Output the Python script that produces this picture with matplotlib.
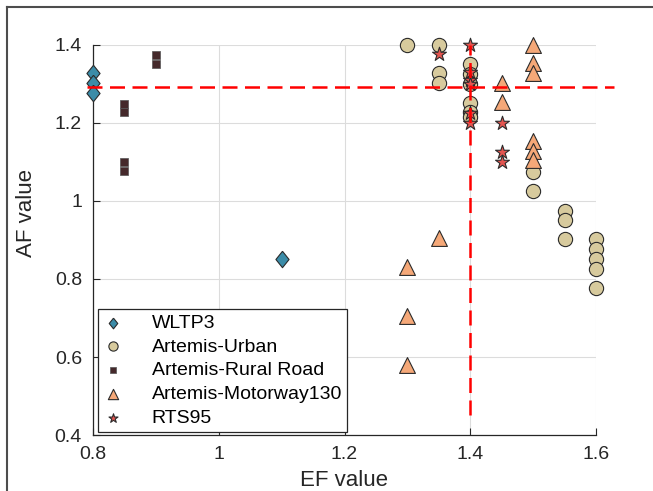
import numpy as np
import matplotlib.pyplot as plt
from matplotlib.lines import Line2D

plt.rcParams['font.family'] = ['Liberation Sans', 'DejaVu Sans']

# Daten je Fahrzyklus (EF, AF)
wltp3_ef = [0.8, 0.8, 0.8, 1.1]
wltp3_af = [1.328, 1.303, 1.277, 0.85]

urban_ef = [1.3, 1.35, 1.35, 1.35, 1.4, 1.4, 1.4, 1.4, 1.4, 1.4,
            1.5, 1.5, 1.55, 1.55, 1.55, 1.6, 1.6, 1.6, 1.6, 1.6]
urban_af = [1.4, 1.4, 1.327, 1.302, 1.35, 1.325, 1.3, 1.25, 1.228, 1.215,
            1.075, 1.026, 0.975, 0.951, 0.902, 0.902, 0.877, 0.851, 0.826, 0.776]

rural_ef = [0.85, 0.85, 0.85, 0.85, 0.9, 0.9]
rural_af = [1.249, 1.227, 1.1, 1.076, 1.375, 1.351]

motorway_ef = [1.3, 1.3, 1.3, 1.35, 1.45, 1.45, 1.5, 1.5, 1.5, 1.5, 1.5, 1.5]
motorway_af = [0.83, 0.704, 0.579, 0.904, 1.303, 1.255, 1.4, 1.355, 1.329, 1.155, 1.129, 1.105]

rts95_ef = [1.35, 1.4, 1.4, 1.4, 1.4, 1.4, 1.4, 1.45, 1.45, 1.45]
rts95_af = [1.376, 1.4, 1.33, 1.31, 1.3, 1.225, 1.2, 1.201, 1.126, 1.101]

# Grenzwerte
ef_limit = 1.4
af_limit = 1.292

fig = plt.figure(figsize=(6.53, 4.91), dpi=100)
ax = fig.add_axes([93/653, 1-435/491, 503/653, 390/491])

edge = '#2b2b2b'
ax.scatter(wltp3_ef, wltp3_af, marker=[(0, 1), (0.8, 0), (0, -1), (-0.8, 0), (0, 1)],
           s=140, c='#3b8ca8', edgecolors=edge, linewidths=0.8, clip_on=False,
           zorder=3, label='WLTP3')
ax.scatter(urban_ef, urban_af, marker='o', s=105, c='#d7ca9d', edgecolors=edge,
           linewidths=0.8, clip_on=False, zorder=3, label='Artemis-Urban')
ax.scatter(rural_ef, rural_af, marker='s', s=38, c='#45292b', edgecolors='#555555',
           linewidths=0.5, clip_on=False, zorder=3, label='Artemis-Rural Road')
ax.scatter(motorway_ef, motorway_af, marker='^', s=130, c='#f5a878', edgecolors=edge,
           linewidths=0.8, clip_on=False, zorder=3, label='Artemis-Motorway130')
ax.scatter(rts95_ef, rts95_af, marker='*', s=110, c='#e35550', edgecolors=edge,
           linewidths=0.8, clip_on=False, zorder=4, label='RTS95')

# Grenzlinien (rot gestrichelt)
ax.plot([0.79, 1.628], [af_limit, af_limit], color='red', lw=1.8,
        linestyle=(0, (6, 3)), clip_on=False, zorder=5)
ax.plot([ef_limit, ef_limit], [0.45, 1.4], color='red', lw=1.8,
        linestyle=(0, (6, 3)), clip_on=False, zorder=5)

ax.set_xlim(0.8, 1.6)
ax.set_ylim(0.4, 1.4)
ax.set_xticks([0.8, 1.0, 1.2, 1.4, 1.6])
ax.set_xticklabels(['0.8', '1', '1.2', '1.4', '1.6'])
ax.set_yticks([0.4, 0.6, 0.8, 1.0, 1.2, 1.4])
ax.set_yticklabels(['0.4', '0.6', '0.8', '1', '1.2', '1.4'])
ax.tick_params(direction='in', length=5, width=0.8, labelsize=14, pad=8,
               colors='#262626')
for side in ['top', 'right']:
    ax.spines[side].set_visible(False)
for side in ['left', 'bottom']:
    ax.spines[side].set_color('#262626')
    ax.spines[side].set_linewidth(0.9)
ax.grid(True, color='#dcdcdc', linewidth=0.8)
ax.set_axisbelow(True)

ax.set_xlabel('EF value', fontsize=16, color='#262626', labelpad=5)
ax.set_ylabel('AF value', fontsize=16, color='#262626')
ax.yaxis.set_label_coords(-0.112, 0.57)

leg = ax.legend(loc='lower left', bbox_to_anchor=(0.01, 0.008), fontsize=14,
                frameon=True, fancybox=False, framealpha=1, edgecolor='#262626',
                borderpad=0.25, labelspacing=0.32, handlelength=1.0,
                handletextpad=1.5, borderaxespad=0, markerscale=0.65)
leg.get_frame().set_linewidth(0.9)
leg.set_zorder(6)

# Rahmen um die Abbildung
fig.add_artist(Line2D([7/653, 1], [1-7/491, 1-7/491], transform=fig.transFigure,
                      color='#4d4d4d', lw=1.5))
fig.add_artist(Line2D([7/653, 7/653], [0, 1-7/491], transform=fig.transFigure,
                      color='#4d4d4d', lw=1.5))

fig.savefig('out.png', dpi=100)
